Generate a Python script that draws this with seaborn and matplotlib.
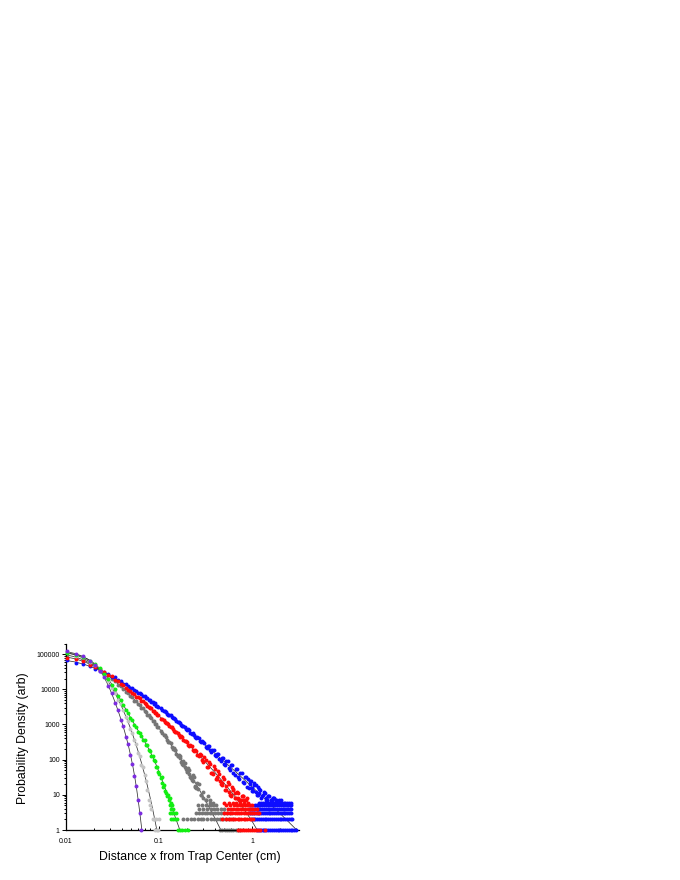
import numpy as np
import pandas as pd
import matplotlib
matplotlib.use("Agg")
import matplotlib.pyplot as plt
import seaborn as sns
from matplotlib.ticker import FixedLocator, FixedFormatter, LogLocator, NullFormatter

# ---------------- fit curves ----------------
FIT_X = [0.01, 0.01259, 0.01585, 0.01995, 0.02512, 0.03162, 0.03981, 0.05012, 0.0631, 0.07943,
         0.1, 0.1259, 0.1585, 0.1995, 0.2512, 0.3162, 0.3981, 0.5012, 0.631, 0.7943,
         1.0, 1.259, 1.585, 1.995, 2.512, 3.162]
BLUE_FIT = [66100, 59600, 50700, 40700, 31300, 22900, 16200, 11200, 7500, 4900,
            3130, 1950, 1200, 724, 435, 258, 152, 88.9, 51.6, 29.7,
            16.9, 9.57, 5.36, 2.97, 1.63, 0.89]
RED_FIT = [83200, 73300, 60300, 45700, 32400, 21600, 13800, 8510, 5130, 3020,
           1750, 991, 552, 302, 162, 85.1, 43.6, 21.4, 10.2, 4.47, 1.78, 0.63]
DGRAY_FIT = [95500, 83200, 66100, 47900, 31600, 19500, 11350, 6310, 3350, 1680,
             785, 343, 141, 55.0, 20.0, 6.84, 2.19, 0.66]
GREEN_FIT_X = [0.01, 0.0125, 0.015, 0.0175, 0.02, 0.0225, 0.025, 0.0275, 0.03, 0.0325, 0.035,
               0.0375, 0.04, 0.0425, 0.045, 0.0475, 0.05, 0.055, 0.06, 0.065, 0.07, 0.075,
               0.08, 0.09, 0.1, 0.11, 0.12, 0.13, 0.14, 0.15, 0.16, 0.17, 0.18]
GREEN_FIT = [107000, 97700, 85100, 70000, 55000, 41700, 30900, 22400, 16000, 11400, 8040,
             5750, 4220, 3160, 2430, 1880, 1480, 966, 653, 457, 327, 237,
             174, 89.1, 44.7, 22.9, 12.2, 6.68, 3.80, 2.26, 1.41, 0.90, 0.58]
LGRAY_FIT_X = [0.01, 0.0125, 0.015, 0.0175, 0.02, 0.0225, 0.025, 0.03, 0.035, 0.04, 0.045,
               0.05, 0.055, 0.06, 0.065, 0.07, 0.075, 0.08, 0.085, 0.09, 0.095, 0.1]
LGRAY_FIT = [112000, 95500, 79400, 63100, 49000, 37200, 27500, 13300, 6380, 3070, 1470,
             708, 340, 163, 78.3, 37.7, 18.1, 8.69, 4.17, 2.0, 0.96, 0.46]
PURPLE_FIT_X = [0.01, 0.0125, 0.015, 0.0175, 0.02, 0.0225, 0.025, 0.0275, 0.03, 0.0325, 0.035,
                0.0375, 0.04, 0.0425, 0.045, 0.0475, 0.05, 0.0525, 0.055, 0.0575, 0.06,
                0.0625, 0.065, 0.0675]
PURPLE_FIT = [118000, 104000, 87100, 69200, 52500, 37200, 25100, 15500, 9330, 5500, 3240,
              1910, 1120, 661, 380, 214, 117, 61.7, 30.9, 14.5, 6.46, 2.75, 1.15, 0.457]

# ---------------- measured points ----------------
X_NEAR = [0.0102, 0.0128, 0.0154, 0.0180, 0.0206, 0.0232, 0.0258, 0.0284, 0.0310, 0.0336,
          0.0362, 0.0388, 0.0414, 0.0440, 0.0466, 0.0492, 0.0518, 0.0544, 0.0570, 0.0596,
          0.0622, 0.0648, 0.0674, 0.0700, 0.0726, 0.0752, 0.0778, 0.0804, 0.0830, 0.0856,
          0.0882, 0.0908, 0.0934, 0.0960, 0.0986]
X_FAR = [0.1059, 0.1122, 0.1189, 0.1259, 0.1334, 0.1413, 0.1496, 0.1585, 0.1679, 0.1778,
         0.1884, 0.1995, 0.2113, 0.2239, 0.2371, 0.2512, 0.2661, 0.2818, 0.2985, 0.3162,
         0.3350, 0.3548, 0.3758, 0.3981, 0.4217, 0.4467, 0.4732, 0.5012, 0.5309, 0.5623,
         0.5957, 0.6310, 0.6683, 0.7079, 0.7499, 0.7943, 0.8414, 0.8913, 0.9441, 1.0,
         1.059, 1.122, 1.189, 1.259, 1.334, 1.413, 1.496, 1.585, 1.679, 1.778]
X_MID_LO = [0.1090, 0.1155, 0.1223, 0.1296, 0.1372, 0.1454, 0.1540, 0.1632, 0.1729, 0.1831,
            0.1940, 0.2055, 0.2177, 0.2307, 0.2443, 0.2588, 0.2742, 0.2904]
X_MID = [0.3073, 0.3255, 0.3447, 0.3652, 0.3868, 0.4097, 0.4340, 0.4597, 0.4870, 0.5158,
         0.5464, 0.5788, 0.6131, 0.6494, 0.6879, 0.7286, 0.7718, 0.8175, 0.8660, 0.9173,
         0.9716, 1.0292, 1.0902, 1.1548, 1.2232, 1.2957, 1.3725, 1.4538, 1.5399, 1.6312,
         1.7278, 1.8302, 1.9387, 2.0535]

BLUE_NEAR = [67300, 56500, 52500, 47000, 38400, 32600, 31200, 26700, 22900, 22200, 18500,
             17300, 14500, 14400, 12600, 11100, 11100, 9510, 9180, 7820, 7780, 7410, 6460,
             6310, 5550, 5750, 5050, 4900, 4300, 4380, 3900, 3950, 3440, 3440, 3050]
BLUE_FAR = [2880, 2350, 2240, 1900, 1820, 1510, 1410, 1140, 1080, 899, 871, 692, 684, 530,
            518, 406, 414, 320, 316, 236, 243, 183, 193, 139, 149, 104, 115, 77.4, 91.2,
            57.7, 71.1, 43.0, 55.3, 31.8, 43.0, 23.6, 32.5, 17, 25, 13, 19, 10, 15, 8, 12,
            7, 9, 7, 8, 6]
BLUE_MID_LO = [2620, 2360, 2030, 1880, 1580, 1490, 1230, 1170, 948, 916, 735, 721, 565, 562,
               433, 437, 330, 340]
BLUE_MID = [302, 218, 238, 165, 187, 124, 146, 92.5, 114, 69, 89, 51, 70, 37, 55, 28, 43,
            21, 33, 16, 25, 13, 19, 10, 14, 9, 11, 7, 9, 7, 8, 7, 7, 7]
BLUE_SCAT_X = [0.90, 0.95, 1.00, 1.05, 1.10, 1.15, 1.20, 1.30, 1.40, 1.50, 1.60, 1.70, 1.80]
BLUE_SCAT_Y = [28, 20, 16, 22, 12, 17, 11, 10, 8, 9, 7, 8, 7]
BLUE_ROWS = {
    6: [1.20, 1.26, 1.32, 1.38, 1.45, 1.51, 1.58, 1.66, 1.74, 1.82, 1.90, 2.00, 2.09, 2.19,
        2.29, 2.40, 2.51, 2.63],
    5: [1.08, 1.13, 1.18, 1.23, 1.29, 1.35, 1.42, 1.48, 1.55, 1.62, 1.70, 1.78, 1.86, 1.95,
        2.04, 2.14, 2.24, 2.35, 2.46, 2.58, 2.65],
    4: [0.92, 0.97, 1.02, 1.07, 1.12, 1.17, 1.22, 1.28, 1.34, 1.40, 1.47, 1.54, 1.61, 1.69,
        1.77, 1.85, 1.94, 2.03, 2.13, 2.23, 2.34, 2.45, 2.56, 2.65],
    3: [0.95, 1.00, 1.05, 1.10, 1.15, 1.20, 1.26, 1.32, 1.38, 1.44, 1.51, 1.58, 1.66, 1.74,
        1.82, 1.90, 1.99, 2.09, 2.19, 2.29, 2.40, 2.52, 2.64],
    2: [0.99, 1.04, 1.09, 1.14, 1.19, 1.25, 1.31, 1.37, 1.43, 1.50, 1.57, 1.64, 1.72, 1.80,
        1.89, 1.98, 2.07, 2.17, 2.27, 2.38, 2.49, 2.61, 2.66],
    1: [1.13, 1.18, 1.24, 1.30, 1.36, 1.42, 1.49, 1.56, 1.63, 1.71, 1.79, 1.88, 1.97, 2.06,
        2.16, 2.26, 2.37, 2.48, 2.60, 2.72, 2.85, 2.98],
}

RED_NEAR = [79400, 74000, 64700, 50400, 44100, 34800, 31900, 25800, 23600, 18800, 16900,
            13900, 13100, 11200, 9420, 9180, 7780, 7450, 6210, 5900, 5520, 4600, 4510,
            3990, 3930, 3300, 3200, 2850, 2850, 2390, 2420, 2170, 2140, 1860, 1840]
RED_FAR = [1450, 1360, 1120, 1040, 822, 760, 604, 578, 454, 433, 328, 324, 239, 240, 173,
           180, 123, 132, 87.1, 97.7, 61.4, 73.3, 43.0, 53.7, 29.0, 38.5, 19.4, 28.2, 13.5,
           20, 10, 14, 8, 11, 7, 9]
RED_MID_LO = [1430, 1200, 1090, 897, 822, 664, 619, 490, 463, 358, 348, 261, 258, 189, 192,
              135, 143, 95.5]
RED_MID = [116, 62, 87, 43, 64, 29, 47, 20, 33, 14, 23, 10, 17, 8, 12, 7, 9, 7, 7]
RED_SCAT_X = [0.38, 0.42, 0.45, 0.48, 0.52, 0.56, 0.60, 0.62, 0.66, 0.71, 0.76, 0.80, 0.84, 0.88]
RED_SCAT_Y = [40, 32, 25, 22, 18, 12, 9, 15, 11, 8, 7, 9, 7, 8]
RED_ROWS = {
    6: [0.50, 0.56, 0.62, 0.68, 0.75, 0.82, 0.90],
    5: [0.52, 0.58, 0.64, 0.69, 0.74, 0.79, 0.84, 0.89, 0.95, 1.01],
    4: [0.55, 0.59, 0.63, 0.67, 0.71, 0.76, 0.80, 0.85, 0.90, 0.95, 1.00, 1.06, 1.12],
    3: [0.50, 0.54, 0.58, 0.61, 0.65, 0.69, 0.73, 0.77, 0.81, 0.86, 0.90, 0.95, 1.00, 1.06,
        1.12, 1.18],
    2: [0.48, 0.52, 0.56, 0.60, 0.63, 0.66, 0.70, 0.73, 0.77, 0.81, 0.85, 0.89, 0.94, 0.98,
        1.03],
    1: [0.70, 0.74, 0.78, 0.82, 0.86, 0.90, 0.95, 1.00, 1.05, 1.10, 1.16, 1.22, 1.38],
}

DGRAY_NEAR = [96600, 79600, 71000, 52800, 45800, 37700, 28800, 25700, 20000, 17400, 13500,
              12500, 10400, 8430, 8040, 6460, 5870, 4760, 4630, 3860, 3610, 2950, 2920,
              2390, 2250, 1850, 1860, 1580, 1550, 1250, 1230, 1020, 1050, 865, 841]
DGRAY_FAR = [668, 490, 452, 320, 298, 201, 193, 126, 125, 76.7, 81.8, 46.8, 51.3, 26.9,
             32.4, 16, 20, 10, 12, 7, 9, 6]
DGRAY_MID_LO = [556, 490, 359, 325, 230, 214, 144, 139, 88.5, 90, 52.7, 56.9, 31.3, 35.9,
                18, 22]
DGRAY_SCAT_X = [0.15, 0.16, 0.17, 0.18, 0.19, 0.20, 0.21, 0.22, 0.23, 0.245, 0.26, 0.28,
                0.30, 0.32, 0.35, 0.38]
DGRAY_SCAT_Y = [190, 125, 112, 72, 60, 45, 38, 30, 25, 17, 15, 10, 8, 7, 7, 6]
DGRAY_ROWS = {
    5: [0.26, 0.29, 0.32, 0.35, 0.38, 0.41],
    4: [0.27, 0.30, 0.33, 0.36, 0.39, 0.42, 0.46, 0.50],
    3: [0.25, 0.27, 0.29, 0.31, 0.33, 0.35, 0.37, 0.40, 0.43, 0.46, 0.50, 0.54, 0.58],
    2: [0.18, 0.20, 0.22, 0.24, 0.26, 0.28, 0.30, 0.33, 0.36, 0.39, 0.42, 0.45, 0.49, 0.53,
        0.57, 0.62],
    1: [0.45, 0.48, 0.51, 0.54, 0.57, 0.60, 0.63, 0.67, 0.71, 0.75],
}

GREEN_NEAR = [110000, 94000, 83400, 63700, 52800, 40200, 26900, 20200, 13600, 10300, 6560,
              5010, 3590, 2550, 2150, 1570, 1340, 970, 845, 630, 585, 463, 359, 351, 264,
              254, 186, 177, 130, 128, 94.8, 92.5, 63.5, 63.1, 44.9]
GREEN_TAIL_X = [0.1012, 0.1038, 0.1064, 0.1090, 0.1116, 0.1142, 0.1168, 0.1194, 0.1220,
                0.1246, 0.1272, 0.1298, 0.1324, 0.1350, 0.1376]
GREEN_TAIL_Y = [38, 30, 33, 22, 17, 19, 13, 11, 9, 10, 7, 8, 5, 6, 5]
GREEN_ROWS = {
    4: [0.134, 0.140],
    3: [0.131, 0.138, 0.145, 0.152],
    2: [0.136, 0.142, 0.148, 0.155],
    1: [0.160, 0.168, 0.178, 0.190, 0.205],
}

LGRAY_NEAR = [113000, 90200, 80200, 58600, 47400, 32700, 25100, 17600, 11100, 7930, 5060,
              3830, 2560, 1630, 1230, 743, 582, 354, 275, 158, 130, 71.9, 61.8, 37.7, 25,
              14, 7, 5, 4, 2, 2, 1, 2, 1]
LGRAY_TAIL_X = [0.0986, 0.1012]
LGRAY_TAIL_Y = [1, 2]

PURPLE_NEAR = [126000, 98900, 86100, 63100, 50100, 32400, 22400, 12300, 7940, 4170, 2630,
               1380, 891, 447, 275, 135, 77.6, 34.7, 18, 7, 3, 1]

Y_TICKS = [1, 10, 100, 1000, 10000, 100000]
Y_TICK_LABELS = ["1", "10", "100", "1000", "10000", "100000"]
X_TICKS = [0.01, 0.1, 1]
X_TICK_LABELS = ["0.01", "0.1", "1"]

# ---------------- styling ----------------
sns.set_theme(style="white")
plt.rcParams['font.family'] = ['Liberation Sans', 'DejaVu Sans']

C_BLUE = "#0d0dff"
C_RED = "#ff0a0a"
C_DGRAY = "#767676"
C_LGRAY = "#c4c4c4"
C_GREEN = "#12ee12"
C_PURPLE = "#7b2be0"
C_LINE = "#333333"

fig = plt.figure(figsize=(6.8, 8.8), dpi=100)
ax = fig.add_axes([66 / 680, 50 / 880, 233 / 680, 186.5 / 880])
ax.set_xscale("log")
ax.set_yscale("log")


def build(parts, rows):
    xs, ys = [], []
    for x, y in parts:
        xs += list(x[:len(y)])
        ys += list(y)
    for level, rx in rows.items():
        xs += list(rx)
        ys += [level] * len(rx)
    return pd.DataFrame({"x": xs, "y": ys})


fits = [
    (FIT_X[:len(BLUE_FIT)], BLUE_FIT),
    (FIT_X[:len(RED_FIT)], RED_FIT),
    (FIT_X[:len(DGRAY_FIT)], DGRAY_FIT),
    (GREEN_FIT_X, GREEN_FIT),
    (LGRAY_FIT_X, LGRAY_FIT),
    (PURPLE_FIT_X, PURPLE_FIT),
]
for fx, fy in fits:
    sns.lineplot(x=fx, y=fy, estimator=None, sort=False, color=C_LINE, linewidth=0.55,
                 ax=ax, zorder=1.5)

series = [
    (build([(X_NEAR, DGRAY_NEAR), (X_FAR, DGRAY_FAR), (X_MID_LO, DGRAY_MID_LO),
            (DGRAY_SCAT_X, DGRAY_SCAT_Y)], DGRAY_ROWS), C_DGRAY, 2),
    (build([(X_NEAR, BLUE_NEAR), (X_FAR, BLUE_FAR), (X_MID_LO, BLUE_MID_LO), (X_MID, BLUE_MID),
            (BLUE_SCAT_X, BLUE_SCAT_Y)], BLUE_ROWS), C_BLUE, 3),
    (build([(X_NEAR, RED_NEAR), (X_FAR, RED_FAR), (X_MID_LO, RED_MID_LO), (X_MID, RED_MID),
            (RED_SCAT_X, RED_SCAT_Y)], RED_ROWS), C_RED, 4),
    (build([(X_NEAR, LGRAY_NEAR), (LGRAY_TAIL_X, LGRAY_TAIL_Y)], {}), C_LGRAY, 5),
    (build([(X_NEAR, GREEN_NEAR), (GREEN_TAIL_X, GREEN_TAIL_Y)], GREEN_ROWS), C_GREEN, 6),
    (build([(X_NEAR, PURPLE_NEAR)], {}), C_PURPLE, 7),
]
for df, col, z in series:
    sns.scatterplot(data=df, x="x", y="y", color=col, s=8, linewidth=0, ax=ax,
                    zorder=z, legend=False, clip_on=False)

ax.set_xlim(0.01, 3.2)
ax.set_ylim(1, 200000)

ax.xaxis.set_major_locator(FixedLocator(X_TICKS))
ax.xaxis.set_major_formatter(FixedFormatter(X_TICK_LABELS))
ax.xaxis.set_minor_locator(LogLocator(base=10, subs=[2, 3, 4, 5, 6, 7, 8, 9], numticks=20))
ax.xaxis.set_minor_formatter(NullFormatter())
ax.yaxis.set_major_locator(FixedLocator(Y_TICKS))
ax.yaxis.set_major_formatter(FixedFormatter(Y_TICK_LABELS))
ax.yaxis.set_minor_locator(LogLocator(base=10, subs=[2, 3, 4, 5, 6, 7, 8, 9], numticks=20))
ax.yaxis.set_minor_formatter(NullFormatter())

sns.despine(ax=ax)
for sp in ("left", "bottom"):
    ax.spines[sp].set_color("black")
    ax.spines[sp].set_linewidth(0.9)

ax.tick_params(axis="y", which="both", left=True, direction="out", color="black",
               width=0.7, labelsize=5, labelcolor="black", pad=1.5)
ax.tick_params(axis="y", which="major", length=3)
ax.tick_params(axis="y", which="minor", length=1.6)
ax.tick_params(axis="x", which="both", bottom=True, direction="in", color="black",
               width=0.7, labelsize=5, labelcolor="black", pad=6)
ax.tick_params(axis="x", which="major", length=3)
ax.tick_params(axis="x", which="minor", length=1.6)

ax.set_xlabel("Distance x from Trap Center (cm)", fontsize=8.8, color="black")
ax.set_ylabel("Probability Density (arb)", fontsize=8.8, color="black")
ax.xaxis.set_label_coords(0.532, -0.11)
ax.yaxis.set_label_coords(-0.16, 0.49)

fig.savefig("out.png", dpi=100, facecolor="white")
